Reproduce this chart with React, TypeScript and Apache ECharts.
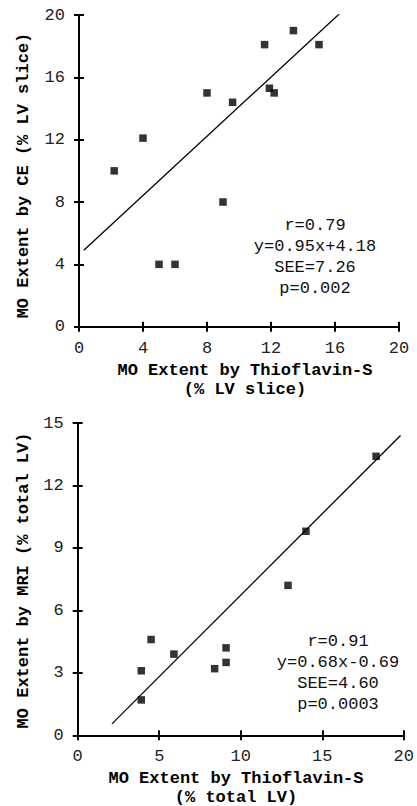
import React, { useEffect, useRef } from "react";
import * as echarts from "echarts";

// Top panel: CE vs Thioflavin-S (% LV slice)
const ceThio: number[] = [2.2, 4.0, 8.0, 9.6, 11.6, 11.9, 12.2, 13.4, 15.0, 9.0, 5.0, 6.0];
const ceVal: number[] = [10.0, 12.1, 15.0, 14.4, 18.1, 15.3, 15.0, 19.0, 18.1, 8.0, 4.0, 4.0];
const ceFitX: number[] = [0.3, 16.3];
const ceFitY: number[] = [4.9, 20.1];
const ceStats: string[] = ["r=0.79", "y=0.95x+4.18", "SEE=7.26", "p=0.002"];
const ceXTicks: number[] = [0, 4, 8, 12, 16, 20];
const ceYTicks: number[] = [0, 4, 8, 12, 16, 20];

// Bottom panel: MRI vs Thioflavin-S (% total LV)
const mriThio: number[] = [18.3, 14.0, 12.9, 4.5, 5.9, 3.9, 3.9, 8.4, 9.1, 9.1];
const mriVal: number[] = [13.4, 9.8, 7.2, 4.6, 3.9, 3.1, 1.7, 3.2, 4.2, 3.5];
const mriFitX: number[] = [2.1, 19.8];
const mriFitY: number[] = [0.55, 14.4];
const mriStats: string[] = ["r=0.91", "y=0.68x-0.69", "SEE=4.60", "p=0.0003"];
const mriXTicks: number[] = [0, 5, 10, 15, 20];
const mriYTicks: number[] = [0, 3, 6, 9, 12, 15];

const MONO = "Courier New, Liberation Mono, Nimbus Mono PS, FreeMono, DejaVu Sans Mono, monospace";

export default function App() {
  const ref = useRef<HTMLDivElement>(null);
  useEffect(() => {
    if (!ref.current) return;
    const chart = echarts.init(ref.current, undefined, { renderer: "svg" });

    const lineStyle = { color: "#000", width: 2 };
    const labelStyle = { fontFamily: MONO, fontSize: 17, color: "#222" };

    const mkX = (gi: number, ticks: number[], inner: boolean) => ({
      type: "value" as const,
      gridIndex: gi,
      position: "bottom" as const,
      min: ticks[0],
      max: ticks[ticks.length - 1],
      interval: ticks[1] - ticks[0],
      splitLine: { show: false },
      axisLine: { show: true, lineStyle },
      axisTick: { show: true, inside: inner, length: 5, lineStyle },
      axisLabel: inner ? { show: false } : { ...labelStyle, margin: 13 },
    });
    const mkY = (gi: number, ticks: number[], inner: boolean) => ({
      type: "value" as const,
      gridIndex: gi,
      position: "left" as const,
      min: ticks[0],
      max: ticks[ticks.length - 1],
      interval: ticks[1] - ticks[0],
      splitLine: { show: false },
      axisLine: { show: true, lineStyle },
      axisTick: { show: true, inside: inner, length: 5, lineStyle },
      axisLabel: inner ? { show: false } : { ...labelStyle, margin: 14 },
    });

    const titleFont = { fontFamily: MONO, fontSize: 17, fontWeight: "bold" as const, fill: "#000" };
    const statFont = { fontFamily: MONO, fontSize: 17, fill: "#111" };

    const txt = (text: string, x: number, y: number, style: any, rotation = 0, lineHeight = 21) => ({
      type: "text" as const,
      x,
      y,
      rotation,
      style: { ...style, text, align: "center", verticalAlign: "middle", lineHeight },
    });

    chart.setOption({
      animation: false,
      backgroundColor: "#fff",
      grid: [
        { left: 79, width: 320, top: 15, height: 311.7 },
        { left: 77.7, width: 329.6, top: 423, height: 312.3 },
      ],
      xAxis: [mkX(0, ceXTicks, false), mkX(0, ceXTicks, true), mkX(1, mriXTicks, false), mkX(1, mriXTicks, true)],
      yAxis: [mkY(0, ceYTicks, false), mkY(0, ceYTicks, true), mkY(1, mriYTicks, false), mkY(1, mriYTicks, true)],
      series: [
        {
          type: "scatter",
          xAxisIndex: 0,
          yAxisIndex: 0,
          symbol: "rect",
          symbolSize: 7.5,
          itemStyle: { color: "#000" },
          data: ceThio.map((x, i) => [x, ceVal[i]]),
        },
        {
          type: "line",
          xAxisIndex: 0,
          yAxisIndex: 0,
          symbol: "none",
          lineStyle: { color: "#000", width: 1.3 },
          data: ceFitX.map((x, i) => [x, ceFitY[i]]),
        },
        {
          type: "scatter",
          xAxisIndex: 2,
          yAxisIndex: 2,
          symbol: "rect",
          symbolSize: 7.5,
          itemStyle: { color: "#000" },
          data: mriThio.map((x, i) => [x, mriVal[i]]),
        },
        {
          type: "line",
          xAxisIndex: 2,
          yAxisIndex: 2,
          symbol: "none",
          lineStyle: { color: "#000", width: 1.3 },
          data: mriFitX.map((x, i) => [x, mriFitY[i]]),
        },
      ],
      graphic: [
        txt("MO Extent by CE (% LV slice)", 23, 175.5, titleFont, Math.PI / 2),
        txt("MO Extent by Thioflavin-S", 245, 370, titleFont),
        txt("(% LV slice)", 245, 389, titleFont),
        txt(ceStats.join("\n"), 315, 256.7, statFont),
        txt("MO Extent by MRI (% total LV)", 23, 580.5, titleFont, Math.PI / 2),
        txt("MO Extent by Thioflavin-S", 236, 778, titleFont),
        txt("(% total LV)", 236, 797, titleFont),
        txt(mriStats.join("\n"), 338, 673.3, statFont),
      ],
    });
    return () => chart.dispose();
  }, []);

  return (
    <div
      ref={ref}
      style={{ position: "fixed", left: 0, top: 0, width: 417, height: 806, background: "#fff" }}
    />
  );
}
